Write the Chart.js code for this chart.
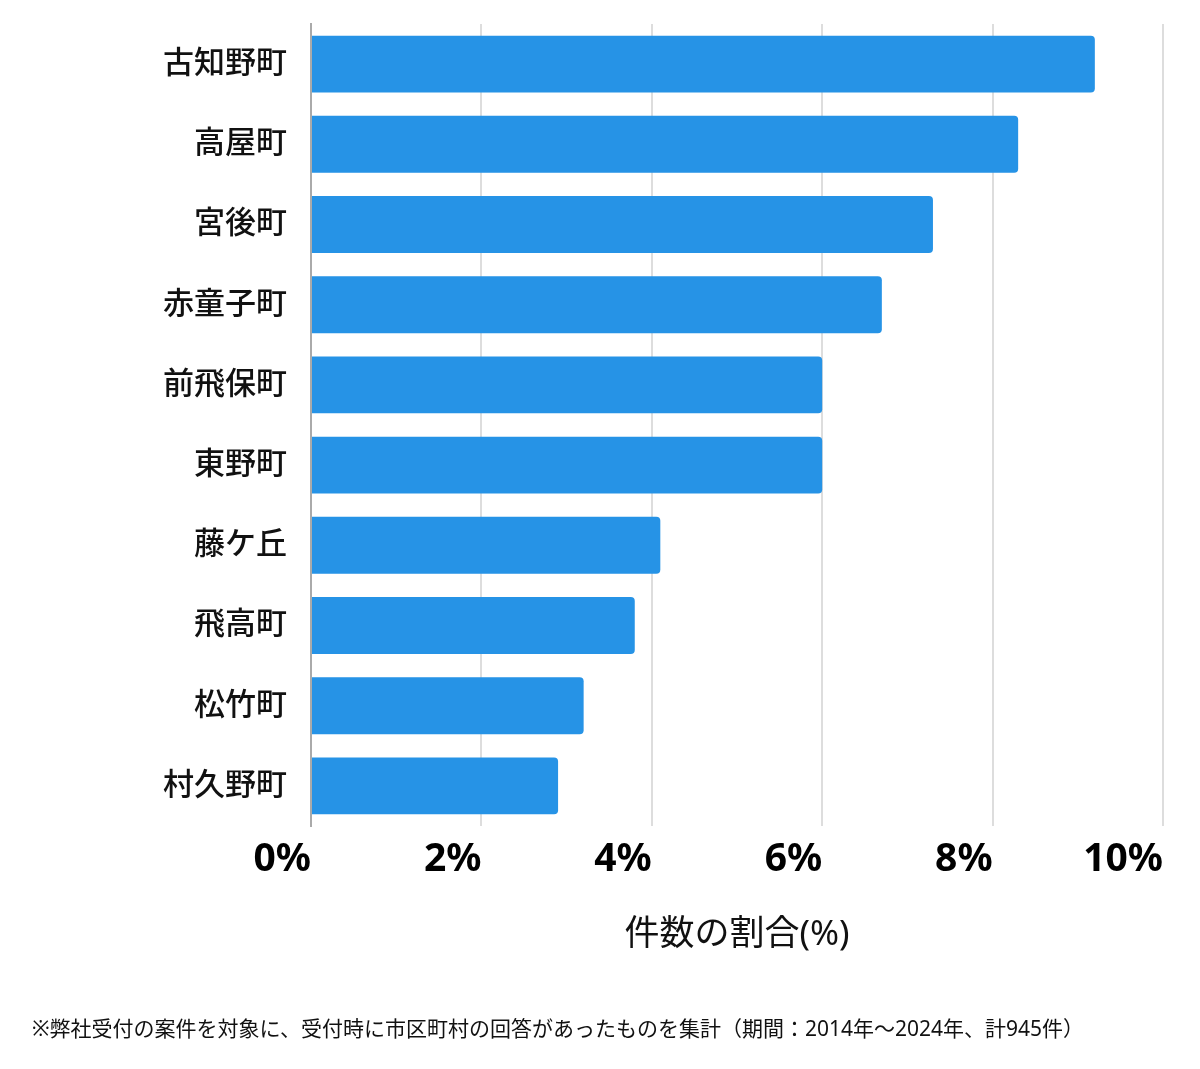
<!DOCTYPE html>
<html lang="ja">

<head>
    <meta charset="UTF-8">
    <title>件数の割合</title>
    <script src="https://cdn.jsdelivr.net/npm/chart.js"></script>
    <style>
        body { margin: 0; background: #fff; }
        .wrap { position: relative; width: 1200px; height: 1069px; }
        .note {
            position: absolute; left: 32px; top: 1012px;
            font: 21px 'Noto Sans', 'Noto Sans CJK JP', sans-serif; color: #111;
        }
    </style>
</head>

<body>
    <div class="wrap">
        <canvas id="shareChart" width="1200" height="1069"></canvas>
        <div class="note">※弊社受付の案件を対象に、受付時に市区町村の回答があったものを集計（期間：2014年〜2024年、計945件）</div>
    </div>

    <script>
        // town names, top to bottom
        const towns = ['古知野町', '高屋町', '宮後町', '赤童子町', '前飛保町', '東野町', '藤ケ丘', '飛高町', '松竹町', '村久野町'];
        // share of cases (%)
        const shares = [9.2, 8.3, 7.3, 6.7, 6.0, 6.0, 4.1, 3.8, 3.2, 2.9];
        const xTicks = [0, 2, 4, 6, 8, 10];

        const fontFamily = "'Noto Sans', 'Noto Sans CJK JP', sans-serif";

        const ctx = document.getElementById('shareChart').getContext('2d');
        new Chart(ctx, {
            type: 'bar',
            data: {
                labels: towns,
                datasets: [{
                    data: shares,
                    backgroundColor: 'rgb(38, 147, 230)',
                    borderRadius: 4,
                    borderSkipped: 'start',
                    categoryPercentage: 1,
                    barPercentage: 0.71
                }]
            },
            options: {
                indexAxis: 'y',
                responsive: false,
                animation: false,
                layout: { padding: { top: 24, right: 37, left: 0, bottom: 0 } },
                plugins: { legend: { display: false }, tooltip: { enabled: false } },
                scales: {
                    x: {
                        min: 0,
                        max: 10,
                        afterBuildTicks: scale => { scale.ticks = xTicks.map(v => ({ value: v })); },
                        afterFit: scale => { scale.height = 1069 - 826; },
                        grid: { color: '#dddddd', lineWidth: 2, drawTicks: false },
                        border: { display: false },
                        ticks: {
                            align: 'end',
                            padding: 10,
                            color: '#000',
                            font: { family: fontFamily, size: 39, weight: 'bold' },
                            callback: v => v + '%'
                        },
                        title: {
                            display: true,
                            text: '件数の割合(%)',
                            color: '#111',
                            font: { family: fontFamily, size: 35 },
                            padding: { top: 0, bottom: 113 }
                        }
                    },
                    y: {
                        afterFit: scale => {
                            scale.width = 311;
                            scale.paddingTop = 0;
                            scale.paddingBottom = 0;
                        },
                        grid: { display: false, drawTicks: false },
                        border: { display: true, color: '#aaaaaa', width: 2 },
                        ticks: {
                            padding: 24,
                            color: '#111',
                            font: { family: fontFamily, size: 31, weight: 500 }
                        }
                    }
                }
            }
        });
    </script>
</body>

</html>
